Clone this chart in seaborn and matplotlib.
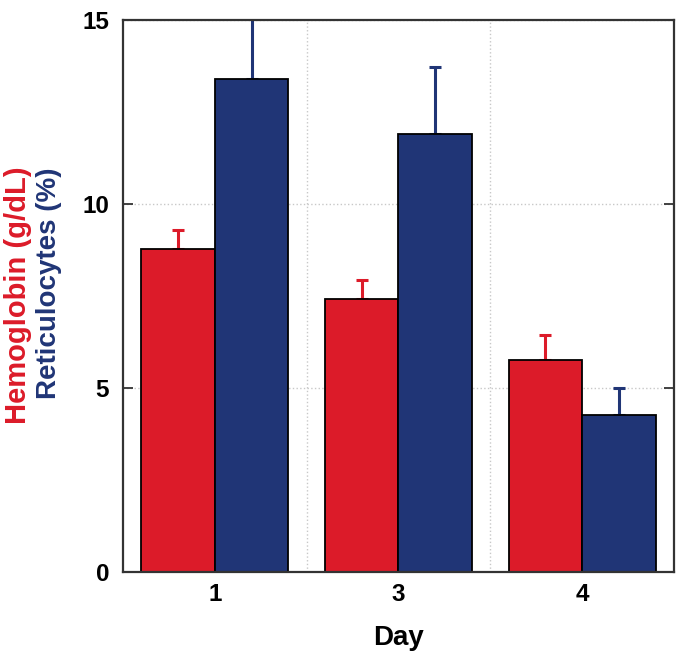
import pandas as pd
import matplotlib
matplotlib.use("Agg")
import matplotlib.pyplot as plt
import seaborn as sns

# data
days = ["1", "3", "4"]
hemoglobin = [8.78, 7.42, 5.77]
hemoglobin_err = [0.52, 0.52, 0.66]
reticulocytes = [13.41, 11.90, 4.27]
reticulocytes_err = [1.65, 1.83, 0.74]

red = "#DC1B29"
blue = "#203576"

sns.set_style("white")
plt.rcParams["font.family"] = ["Liberation Sans", "DejaVu Sans"]
plt.rcParams["font.weight"] = "bold"
plt.rcParams["text.color"] = "black"
plt.rcParams["axes.labelcolor"] = "black"
plt.rcParams["xtick.labelcolor"] = "black"
plt.rcParams["ytick.labelcolor"] = "black"

df = pd.DataFrame({
    "Day": days * 2,
    "measure": ["Hemoglobin"] * 3 + ["Reticulocytes"] * 3,
    "value": hemoglobin + reticulocytes,
})

fig = plt.figure(figsize=(6.8, 6.58), dpi=100)
ax = fig.add_axes([0.181, 0.131, 0.810, 0.838])

sns.barplot(data=df, x="Day", y="value", hue="measure",
            palette=[red, blue], errorbar=None, width=0.8,
            edgecolor="black", linewidth=1.3, saturation=1, ax=ax, zorder=2)

# upward-only error bars at the centre of each bar
for cont, errs, col in zip(ax.containers, [hemoglobin_err, reticulocytes_err], [red, blue]):
    xs = [p.get_x() + p.get_width() / 2 for p in cont.patches]
    hs = [p.get_height() for p in cont.patches]
    ax.errorbar(xs, hs, yerr=[[0] * len(errs), errs], fmt="none",
                ecolor=col, elinewidth=2.2, capsize=4.5, capthick=2.2, zorder=1.5)

ax.legend_.remove()
ax.set_xlim(-0.5, 2.5)
ax.set_ylim(0, 15)
ax.set_yticks([0, 5, 10, 15])

# dotted grid: horizontal at y ticks, vertical between days
ax.set_xticks([0.5, 1.5], minor=True)
ax.grid(axis="y", which="major", linestyle=":", color="#c8c8c8", linewidth=1, zorder=0)
ax.grid(axis="x", which="minor", linestyle=":", color="#c8c8c8", linewidth=1, zorder=0)
ax.set_axisbelow(True)

ax.tick_params(axis="y", direction="in", length=7, width=1.3, color="#333333",
               left=True, right=True, labelsize=17.5, pad=10, labelcolor="black")
ax.tick_params(axis="x", which="both", length=0, labelsize=17.5, pad=8, labelcolor="black")
for lab in ax.get_xticklabels() + ax.get_yticklabels():
    lab.set_fontweight("bold")

for s in ax.spines.values():
    s.set_color("#333333")
    s.set_linewidth(1.6)

ax.set_xlabel("Day", fontsize=20, fontweight="bold", labelpad=14, color="black")
ax.set_ylabel("")

fig.text(0.026, 0.552, "Hemoglobin (g/dL)", rotation=90, color=red,
         fontsize=21, fontweight="bold", ha="center", va="center")
fig.text(0.072, 0.570, "Reticulocytes (%)", rotation=90, color=blue,
         fontsize=20, fontweight="bold", ha="center", va="center")

fig.savefig("out.png", dpi=100)
